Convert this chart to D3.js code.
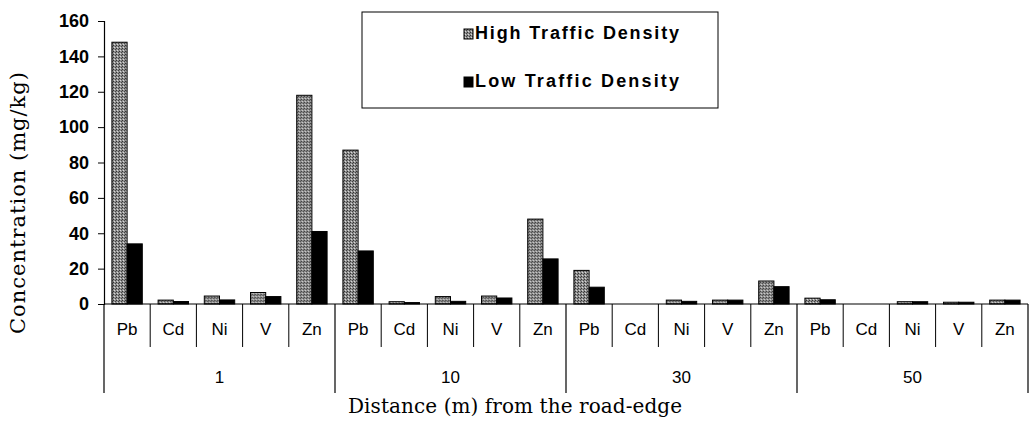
<!DOCTYPE html>
<html>
<head>
<meta charset="utf-8">
<script src="https://cdn.jsdelivr.net/npm/d3@7"></script>
<style>
  body { margin: 0; background: #fff; }
  svg { display: block; }
</style>
</head>
<body>
<div id="chart"></div>
<script>
// values
const distances = ["1", "10", "30", "50"];
const metals = ["Pb", "Cd", "Ni", "V", "Zn"];
const highTraffic = [148, 2.2, 4.5, 6.5, 118,  87, 1.3, 4.2, 4.5, 48,  19, 0, 2.2, 2.2, 13,  3.3, 0, 1.3, 1, 2.2];
const lowTraffic  = [34, 1.4, 2.3, 4.2, 41,   30, 0.8, 1.5, 3.4, 25.5, 9.5, 0, 1.5, 2.2, 9.8, 2.4, 0, 1.3, 1, 2.2];
const seriesNames = ["High Traffic Density", "Low Traffic Density"];
const yTicks = [0, 20, 40, 60, 80, 100, 120, 140, 160];

let svgWidth = 1029;
let svgHeight = 431;
let margin = { top: 21, right: 1, bottom: 127, left: 104 };
let width = svgWidth - margin.left - margin.right;
let height = svgHeight - margin.top - margin.bottom;

// one row per (distance, metal)
let rows = [];
distances.forEach((dist, gi) => {
  metals.forEach((m, mi) => {
    let i = gi * metals.length + mi;
    rows.push({ key: dist + "-" + m, dist: dist, metal: m, values: [highTraffic[i], lowTraffic[i]] });
  });
});

var svg = d3.select("#chart").append("svg")
  .attr("width", svgWidth)
  .attr("height", svgHeight);

// grey stipple used for the high-traffic bars
let defs = svg.append("defs");
let pat = defs.append("pattern")
  .attr("id", "stipple")
  .attr("patternUnits", "userSpaceOnUse")
  .attr("width", 3).attr("height", 3);
pat.append("rect").attr("width", 3).attr("height", 3).attr("fill", "#8e8e8e");
pat.append("rect").attr("x", 0).attr("y", 0).attr("width", 1).attr("height", 1).attr("fill", "#333");
pat.append("rect").attr("x", 2).attr("y", 1).attr("width", 1).attr("height", 1).attr("fill", "#444");
pat.append("rect").attr("x", 1).attr("y", 2).attr("width", 1).attr("height", 1).attr("fill", "#d8d8d8");

var chartGroup = svg.append("g")
  .attr("transform", `translate(${margin.left}, ${margin.top})`);

let xScale = d3.scaleBand()
  .domain(rows.map(d => d.key))
  .range([0, width])
  .paddingInner(0)
  .paddingOuter(0);

let xInner = d3.scaleBand()
  .domain([0, 1])
  .range([0, xScale.bandwidth()])
  .paddingInner(0)
  .paddingOuter(0.52);

let yScale = d3.scaleLinear()
  .domain([0, 160])
  .range([height, 0]);

let fills = ["url(#stipple)", "#000"];

// bars
let catGroups = chartGroup.selectAll(".cat")
  .data(rows)
  .enter()
  .append("g")
  .attr("class", "cat")
  .attr("transform", d => `translate(${xScale(d.key)}, 0)`);

catGroups.selectAll("rect")
  .data(d => d.values.map((v, s) => ({ s: s, v: v })))
  .enter()
  .append("rect")
  .filter(d => d.v > 0)
  .attr("x", d => xInner(d.s))
  .attr("y", d => yScale(d.v))
  .attr("width", xInner.bandwidth())
  .attr("height", d => height - yScale(d.v))
  .attr("fill", d => fills[d.s])
  .attr("stroke", "#000")
  .attr("stroke-width", 1);

// y axis
let leftAxis = d3.axisLeft(yScale)
  .tickValues(yTicks)
  .tickSize(6)
  .tickPadding(9);

let yAxisG = chartGroup.append("g").call(leftAxis);
yAxisG.select(".domain").attr("stroke", "#000").attr("stroke-width", 1.2);
yAxisG.selectAll(".tick line").attr("stroke", "#000");
yAxisG.selectAll("text")
  .attr("font-family", "Liberation Sans, Arial, sans-serif")
  .attr("font-size", 18)
  .attr("font-weight", "bold")
  .attr("fill", "#000");

// x axis: baseline, category dividers, group dividers
let xAxisG = chartGroup.append("g").attr("class", "x-axis");
xAxisG.append("line")
  .attr("x1", 0).attr("x2", width)
  .attr("y1", height).attr("y2", height)
  .attr("stroke", "#000").attr("stroke-width", 1.2);

let catRowH = 43;
let groupRowH = 89;

xAxisG.selectAll(".cat-div")
  .data(rows.slice(1).filter((d, i) => (i + 1) % metals.length !== 0))
  .enter()
  .append("line")
  .attr("x1", d => xScale(d.key)).attr("x2", d => xScale(d.key))
  .attr("y1", height).attr("y2", height + catRowH)
  .attr("stroke", "#000").attr("stroke-width", 1);

let groupEdges = d3.range(distances.length + 1).map(g => g * metals.length * xScale.bandwidth());
xAxisG.selectAll(".grp-div")
  .data(groupEdges)
  .enter()
  .append("line")
  .attr("x1", d => d).attr("x2", d => d)
  .attr("y1", height).attr("y2", height + groupRowH)
  .attr("stroke", "#000").attr("stroke-width", 1.2);

xAxisG.selectAll(".cat-label")
  .data(rows)
  .enter()
  .append("text")
  .attr("x", d => xScale(d.key) + xScale.bandwidth() / 2)
  .attr("y", height + 31)
  .attr("text-anchor", "middle")
  .attr("font-family", "Liberation Sans, Arial, sans-serif")
  .attr("font-size", 17)
  .attr("fill", "#000")
  .text(d => d.metal);

xAxisG.selectAll(".grp-label")
  .data(distances)
  .enter()
  .append("text")
  .attr("x", (d, i) => (groupEdges[i] + groupEdges[i + 1]) / 2)
  .attr("y", height + 79)
  .attr("text-anchor", "middle")
  .attr("font-family", "Liberation Sans, Arial, sans-serif")
  .attr("font-size", 17)
  .attr("fill", "#000")
  .text(d => d);

// axis titles
chartGroup.append("text")
  .attr("transform", "rotate(-90)")
  .attr("x", -182)
  .attr("y", 0 - margin.left + 25)
  .attr("text-anchor", "middle")
  .attr("font-family", "DejaVu Serif, serif")
  .attr("font-size", 21)
  .attr("textLength", 262)
  .attr("fill", "#000")
  .text("Concentration (mg/kg)");

chartGroup.append("text")
  .attr("x", 515 - margin.left)
  .attr("y", height + 109)
  .attr("text-anchor", "middle")
  .attr("font-family", "DejaVu Serif, serif")
  .attr("font-size", 20)
  .attr("textLength", 334)
  .attr("fill", "#000")
  .text("Distance (m) from the road-edge");

// legend
let legend = svg.append("g").attr("transform", "translate(362, 12)");
legend.append("rect")
  .attr("width", 356).attr("height", 96)
  .attr("fill", "#fff").attr("stroke", "#000").attr("stroke-width", 1);

let legendItems = legend.selectAll(".item")
  .data(seriesNames)
  .enter()
  .append("g")
  .attr("transform", (d, i) => `translate(102, ${17 + i * 48})`);

legendItems.append("rect")
  .attr("width", 9).attr("height", 10)
  .attr("fill", (d, i) => fills[i])
  .attr("stroke", "#000");

legendItems.append("text")
  .attr("x", 11)
  .attr("y", 10)
  .attr("font-family", "Liberation Sans, Arial, sans-serif")
  .attr("font-size", 18)
  .attr("font-weight", "bold")
  .attr("textLength", 204)
  .attr("fill", "#000")
  .text(d => d);
</script>
</body>
</html>
